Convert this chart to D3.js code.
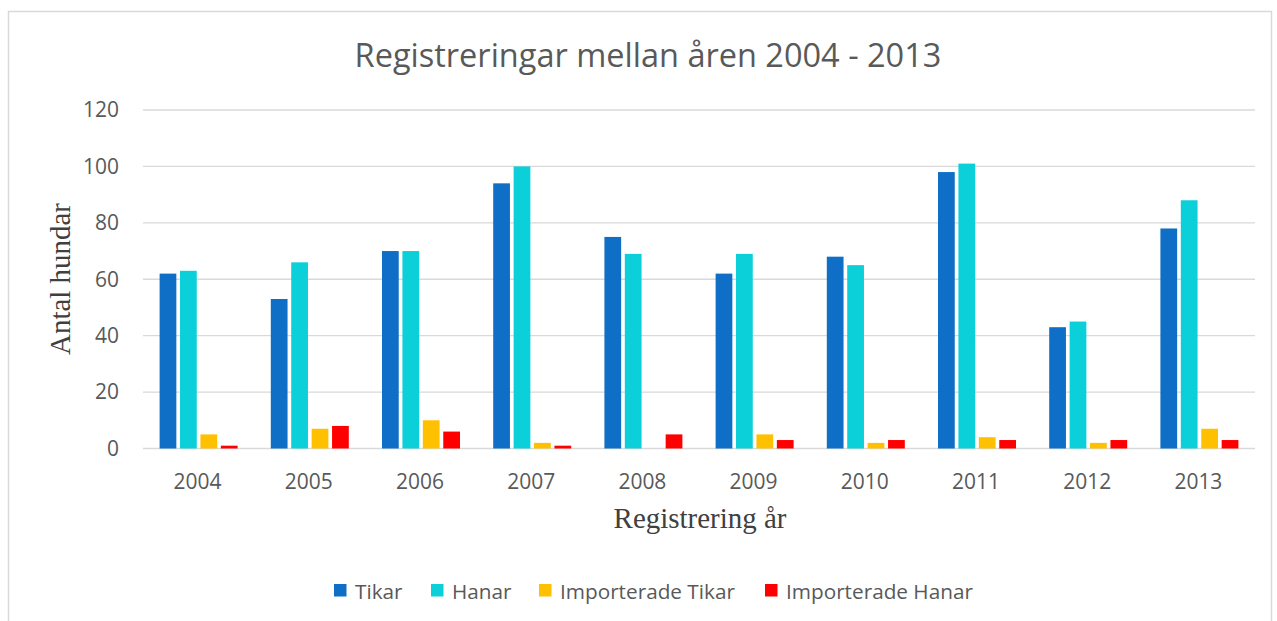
<!DOCTYPE html>
<html><head><meta charset="utf-8">
<script src="https://cdn.jsdelivr.net/npm/d3@7"></script>
<style>body{margin:0;background:#fff}svg{display:block}</style>
</head><body>
<svg id="c" width="1277" height="621"></svg>
<script>
const years = ["2004","2005","2006","2007","2008","2009","2010","2011","2012","2013"];
const tikar = [62,53,70,94,75,62,68,98,43,78];
const hanar = [63,66,70,100,69,69,65,101,45,88];
const impTikar = [5,7,10,2,0,5,2,4,2,7];
const impHanar = [1,8,6,1,5,3,3,3,3,3];
const seriesNames = ["Tikar","Hanar","Importerade Tikar","Importerade Hanar"];
const yTicks = [0,20,40,60,80,100,120];
const colors = ["#0F6FC6","#0BD0D9","#FFC000","#FF0000"];
const seriesVals = [tikar,hanar,impTikar,impHanar];

const svg = d3.select("#c");
const font = "'Open Sans', sans-serif";
const serif = "'Liberation Serif', serif";

// size a text element so that its width matches a target width
function fit(sel, target){
  const base = 20;
  sel.attr("font-size", base);
  const w = sel.node().getComputedTextLength();
  const s = base*target/w;
  sel.attr("font-size", s);
  return s;
}

svg.append("rect").attr("x",8.5).attr("y",11.5).attr("width",1263).attr("height",640)
  .attr("fill","#fff").attr("stroke","#d9d9d9").attr("stroke-width",1.5);

const L=143,R=1255,T=110,B=448.5;
const x = d3.scaleBand().domain(years).range([L,R]);
const y = d3.scaleLinear().domain([0,120]).range([B,T]);
const xs = d3.scaleBand().domain(d3.range(4)).range([0,78]).paddingInner(0.18);
const off = (x.bandwidth()-78)/2;

svg.append("g").selectAll("line").data(yTicks).join("line")
  .attr("x1",L).attr("x2",R).attr("y1",d=>y(d)).attr("y2",d=>y(d))
  .attr("stroke","#d9d9d9").attr("stroke-width",1.3);

const probe = svg.append("text").attr("font-family",font).text("2004");
const tickSize = fit(probe, 48);
probe.remove();

svg.append("g").selectAll("text").data(yTicks).join("text")
  .attr("x",119).attr("y",d=>y(d)).attr("dy","0.35em").attr("text-anchor","end")
  .attr("font-family",font).attr("font-size",tickSize).attr("fill","#595959").text(d=>d);

seriesVals.forEach((vals,si)=>{
  svg.append("g").selectAll("rect").data(vals).join("rect")
    .attr("x",(d,i)=>x(years[i])+off+xs(si)).attr("width",xs.bandwidth())
    .attr("y",d=>y(d)).attr("height",d=>B-y(d)).attr("fill",colors[si]);
});

svg.append("g").selectAll("text").data(years).join("text")
  .attr("x",d=>x(d)+x.bandwidth()/2-1).attr("y",489).attr("text-anchor","middle")
  .attr("font-family",font).attr("font-size",tickSize).attr("fill","#595959").text(d=>d);

const title = svg.append("text").attr("x",648).attr("y",67).attr("text-anchor","middle")
  .attr("font-family",font).attr("fill","#595959")
  .text("Registreringar mellan åren 2004 - 2013");
fit(title, 587);

const yt = svg.append("text").attr("transform","translate(70,279) rotate(-90)").attr("text-anchor","middle")
  .attr("font-family",serif).attr("fill","#404040")
  .text("Antal hundar");
const axSize = fit(yt, 152);
svg.append("text").attr("x",700).attr("y",528).attr("text-anchor","middle")
  .attr("font-family",serif).attr("font-size",axSize).attr("fill","#404040")
  .text("Registrering år");

const legX = [334,431,539,765];
const lg = svg.append("g");
const lp = lg.append("text").attr("font-family",font).text("Importerade Hanar");
const legSize = fit(lp, 187);
lp.remove();
seriesNames.forEach((n,i)=>{
  lg.append("rect").attr("x",legX[i]).attr("y",584).attr("width",12.5).attr("height",12.5).attr("fill",colors[i]);
  lg.append("text").attr("x",legX[i]+21).attr("y",599)
    .attr("font-family",font).attr("font-size",legSize).attr("fill","#595959").text(n);
});
</script>
</body></html>
